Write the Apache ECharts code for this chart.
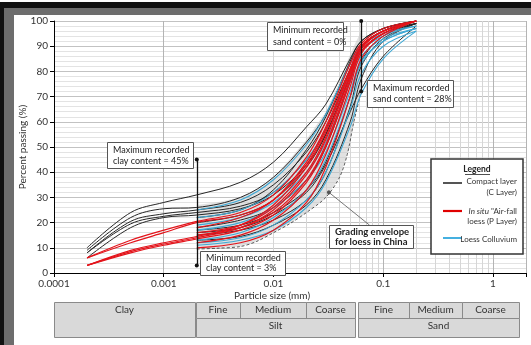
<!DOCTYPE html>
<html>
<head>
<meta charset="utf-8">
<script src="https://cdn.jsdelivr.net/npm/echarts@6/dist/echarts.min.js"></script>
<style>
  html, body { margin: 0; padding: 0; background: #fff; }
  #chart { width: 531px; height: 345px; }
</style>
</head>
<body>
<div id="chart"></div>
<script>
// Sieve / hydrometer sizes (mm) at which percent passing was read
const sizes = [0.0002, 0.0005, 0.001, 0.002, 0.005, 0.01, 0.02, 0.03, 0.05, 0.063, 0.1, 0.2];

// Compact layer (C Layer) grading curves, percent passing
const compactLayer = [
  [10, 24, 28, 31, 36, 44, 58, 67, 85, 92, 97, 100],
  [9, 22, 25.5, 26, 30, 38, 52, 63, 83, 91, 97, 100],
  [8, 20.5, 23.5, 25, 28, 35, 48, 60, 81, 90, 96, 100],
  [8, 19.5, 22.5, 24, 26.5, 32, 45, 57, 80, 90, 96, 100],
  [6, 18, 22, 23, 25.5, 31, 43, 55, 78, 89, 96, 99],
  [null, null, null, 22, 25, 33, 49, 62, 84, 92, 97, 100],
  [null, null, null, 20, 23, 29, 42, 55, 79, 90, 96, 100],
  [null, null, null, 18, 21, 26, 37, 50, 76, 88, 95, 99],
  [null, null, null, 17, 19, 24, 33, 44, 70, 84, 94, 99],
  [null, null, null, 15, 17, 21, 29, 40, 66, 82, 93, 99],
  [null, null, null, 16, 18, 23, 32, 43, 64, 73, 86, 98],
  [null, null, null, 13, 14.5, 19, 27, 37, 60, 77, 92, 99]
];

// In situ air-fall loess (P Layer) grading curves
const airFallLoess = [
  [6, 13, 17, 20.5, 24, 31, 46, 60, 83, 91, 97, 100],
  [6, 12, 16, 20, 23, 29, 43, 57, 81, 90, 96, 100],
  [3, 9, 12, 14.5, 19, 27, 42, 56, 80, 90, 96, 100],
  [3, 8.5, 11.5, 14, 18, 25, 39, 53, 78, 89, 96, 100],
  [3, 8, 11, 13.5, 17, 23, 36, 50, 76, 88, 95, 100],
  [null, null, null, 18, 22, 29, 44, 58, 81, 90, 96, 100],
  [null, null, null, 16, 19, 26, 40, 54, 79, 89, 96, 100],
  [null, null, null, 15, 18, 24, 37, 51, 77, 88, 95, 100],
  [null, null, null, 12, 15, 21, 33, 47, 74, 87, 95, 100],
  [null, null, null, 10, 12, 17, 28, 42, 70, 85, 94, 100]
];

// Loess colluvium grading curves
const loessColluvium = [
  [null, null, null, 25, 29, 37, 51, 63, 83, 90, 95, 98],
  [null, null, null, 22, 25, 32, 45, 57, 79, 88, 94, 98],
  [null, null, null, 19, 22, 28, 40, 52, 76, 86, 93, 97],
  [null, null, null, 17, 20, 26, 37, 48, 72, 84, 92, 97],
  [null, null, null, 13, 16, 22, 33, 45, 70, 83, 92, 97],
  [null, null, null, 12, 14, 19, 29, 40, 65, 79, 90, 96],
  [null, null, null, 11, 13, 17, 26, 36, 58, 71, 85, 96]
];

// Grading envelope for loess in China
const envelopeSizes = [0.002, 0.003, 0.005, 0.007, 0.01, 0.014, 0.02, 0.03, 0.04, 0.047, 0.054, 0.063];
const envelopeLower = [9.5, 9.8, 10.5, 12.5, 16, 19.5, 24, 30, 38, 47, 60, 72];
const envelopeUpper = [27, 28, 30, 33, 38, 45, 53, 64, 76, 84, 90, 96];

// Recorded clay (< 0.002 mm) and sand (> 0.063 mm) extremes
const clayLimit = { size: 0.002, min: 3, max: 45 };
const sandLimit = { size: 0.063, min: 72, max: 100 };
const envelopePointer = [[0.032, 32], [0.075, 19]];

// Axis tick labels
const xTickValues = [0.0001, 0.001, 0.01, 0.1, 1];
const xTickLabels = ['0.0001', '0.001', '0.01', '0.1', '1'];
const xMin = 0.0001, xMax = 2;

const FONT = 'Lato, "Open Sans", sans-serif';
const BLACK = '#262626', RED = '#e3141b', BLUE = '#3ea8d4';

// minor log grid positions 2..9 within each decade
const minorGrid = [];
xTickValues.forEach(d => {
  for (let m = 2; m <= 9; m++) {
    const v = +(m * d).toPrecision(3);
    if (v < xMax) minorGrid.push(v);
  }
});

const series = [];

// shaded grading envelope
series.push({
  type: 'custom',
  silent: true,
  z: 1,
  data: [[0.01, 50]],
  renderItem: function (params, api) {
    const lower = envelopeSizes.map((s, i) => api.coord([s, envelopeLower[i]]));
    const upper = envelopeSizes.map((s, i) => api.coord([s, envelopeUpper[i]])).reverse();
    return {
      type: 'polygon',
      shape: { points: lower.concat(upper) },
      style: { fill: 'rgba(200,200,200,0.55)' }
    };
  }
});

// minor vertical grid lines + minor ticks
series.push({
  type: 'line',
  data: [],
  silent: true,
  markLine: {
    silent: true,
    z: 1,
    symbol: ['none', 'none'],
    label: { show: false },
    lineStyle: { color: '#d6d6d6', width: 1, type: 'solid' },
    data: minorGrid.map(v => ({ xAxis: v }))
      .concat(minorGrid.map(v => [
        { coord: [v, 0], lineStyle: { color: '#000', width: 1, type: 'solid' } },
        { coord: [v, -1.2] }
      ]))
  }
});

function addCurves(list, color, width, name) {
  list.forEach(vals => {
    series.push({
      type: 'line',
      name: name,
      data: sizes.map((s, i) => [s, vals[i]]).filter(p => p[1] != null),
      smooth: 0.35,
      symbol: 'none',
      silent: true,
      z: 3,
      lineStyle: { color: color, width: width }
    });
  });
}
addCurves(compactLayer, BLACK, 1, 'Compact layer (C Layer)');
addCurves(loessColluvium, BLUE, 1.1, 'Loess Colluvium');
addCurves(airFallLoess, RED, 1.2, 'In situ Air-fall loess (P Layer)');

// lower envelope boundary (dashed)
series.push({
  type: 'line',
  data: envelopeSizes.map((s, i) => [s, envelopeLower[i]]),
  smooth: 0.3,
  symbol: 'none',
  silent: true,
  z: 2,
  lineStyle: { color: '#333', width: 0.8, type: [3, 2] }
});

// clay / sand range markers and envelope pointer
series.push({
  type: 'line',
  data: [],
  silent: true,
  markLine: {
    silent: true,
    z: 6,
    symbol: ['circle', 'circle'],
    symbolSize: 4,
    label: { show: false },
    lineStyle: { color: '#111', width: 1.3, type: 'solid' },
    data: [
      [{ coord: [clayLimit.size, clayLimit.min] }, { coord: [clayLimit.size, clayLimit.max] }],
      [{ coord: [sandLimit.size, sandLimit.min] }, { coord: [sandLimit.size, sandLimit.max] }],
      [{ coord: envelopePointer[0], symbol: 'circle' },
       { coord: envelopePointer[1], symbol: 'none', lineStyle: { color: '#555', width: 0.8 } }]
    ]
  }
});

// ---- annotations, legend, classification table, frame ----
const g = [];
const txt = (x, y, text, opt, extra) => g.push(Object.assign({
  type: 'text', x: x, y: y, z: 100,
  style: Object.assign({ text: text, font: '9px ' + FONT, fill: '#222', verticalAlign: 'middle' }, opt || {})
}, extra || {}));
const rect = (x, y, w, h, fill, stroke, lw) => g.push({
  type: 'rect', z: 99, shape: { x: x, y: y, width: w, height: h },
  style: { fill: fill, stroke: stroke, lineWidth: lw == null ? 1 : lw }
});
const seg = (x1, y1, x2, y2, color, lw) => g.push({
  type: 'line', z: 100, shape: { x1: x1, y1: y1, x2: x2, y2: y2 },
  style: { stroke: color, lineWidth: lw || 1 }
});

// frame
rect(0, 2, 531, 6, '#111', null, 0);
rect(0, 2, 4, 343, '#111', null, 0);
rect(4, 8, 527, 7, '#6d6d6d', null, 0);
rect(4, 8, 10, 337, '#6d6d6d', null, 0);

// annotation boxes
function note(x, y, w, h, l1, l2, bold) {
  rect(x + 0.5, y + 0.5, w, h, '#fff', '#555', 1);
  const f = (bold ? 'bold 9.5px ' : '9px ') + FONT;
  txt(x + 6, y + h * 0.3, l1, { font: f });
  txt(x + 6, y + h * 0.72, l2, { font: f });
}
note(107, 142, 86, 26, 'Maximum recorded', 'clay content = 45%');
note(267, 22, 76, 28, 'Minimum recorded', 'sand content = 0%');
note(367, 80, 86, 27, 'Maximum recorded', 'sand content = 28%');
note(200, 251, 85, 24, 'Minimum recorded', 'clay content = 3%');
note(329, 225, 84, 23, 'Grading envelope', 'for loess in China', true);

// legend
rect(431, 159, 92, 95, '#fff', '#333', 1.5);
txt(477, 169, 'Legend', { font: 'bold 8.5px ' + FONT, align: 'center' });
seg(465, 174.5, 490, 174.5, '#222', 0.8);
seg(443, 183, 462, 183, '#555', 2);
seg(443, 211, 462, 211, '#e00000', 2.2);
seg(443, 238, 462, 238, '#45b0e0', 2);
const lf = '8px ' + FONT;
txt(517, 181, 'Compact layer', { font: lf, align: 'right', fill: '#333' });
txt(517, 192, '(C Layer)', { font: lf, align: 'right', fill: '#333' });
txt(517, 211, '{i|In situ} "Air-fall', {
  font: lf, align: 'right', fill: '#333',
  rich: { i: { fontStyle: 'italic', fontSize: 8, fontFamily: FONT, fill: '#333' } }
});
txt(517, 221, 'loess (P Layer)', { font: lf, align: 'right', fill: '#333' });
txt(517, 239, 'Loess Colluvium', { font: lf, align: 'right', fill: '#333' });

// axis titles
txt(272, 296, 'Particle size (mm)', { font: '10px ' + FONT, align: 'center', fill: '#333' });
txt(23, 147, 'Percent passing (%)', { font: '10px ' + FONT, align: 'center', fill: '#333' },
    { rotation: Math.PI / 2 });

// particle size classification table
const TFILL = '#d9d9d9', TLINE = '#8a8a8a';
function cell(x0, x1, y0, y1, label, ty) {
  rect(x0 + 0.5, y0 + 0.5, x1 - x0, y1 - y0, TFILL, TLINE, 1);
  txt((x0 + x1) / 2, ty == null ? (y0 + y1) / 2 : ty, label, { font: '10px ' + FONT, align: 'center', fill: '#333' });
}
cell(54, 195, 302, 337, 'Clay', 310);
cell(196, 240, 302, 318, 'Fine');
cell(240, 306, 302, 318, 'Medium');
cell(306, 355, 302, 318, 'Coarse');
cell(196, 355, 318, 337, 'Silt', 326);
cell(358, 409, 302, 318, 'Fine');
cell(409, 462, 302, 318, 'Medium');
cell(462, 519, 302, 318, 'Coarse');
cell(358, 519, 318, 337, 'Sand', 326);

const option = {
  animation: false,
  backgroundColor: '#fff',
  grid: { left: 54, right: 5, top: 21, bottom: 72 },
  xAxis: {
    type: 'log',
    logBase: 10,
    min: xMin,
    max: xMax,
    axisLine: { lineStyle: { color: '#000', width: 1 } },
    axisTick: { show: true, length: 4, lineStyle: { color: '#000' } },
    axisLabel: {
      fontFamily: FONT, fontSize: 10, color: '#333', margin: 6,
      formatter: function (v) {
        const i = xTickValues.findIndex(t => Math.abs(Math.log10(v) - Math.log10(t)) < 1e-6);
        return i >= 0 ? xTickLabels[i] : '';
      }
    },
    splitLine: { show: true, lineStyle: { color: '#b4b4b4', width: 1 } }
  },
  yAxis: {
    type: 'value',
    min: 0,
    max: 100,
    interval: 10,
    axisLine: { show: true, lineStyle: { color: '#000', width: 1 } },
    axisTick: { show: true, length: 4, lineStyle: { color: '#000' } },
    axisLabel: { fontFamily: FONT, fontSize: 10, color: '#333', margin: 6 },
    splitLine: { show: true, lineStyle: { color: '#c2c2c2', width: 1 } },
    minorTick: { show: false, splitNumber: 5 },
    minorSplitLine: { show: true, lineStyle: { color: '#e3e3e3', width: 1 } }
  },
  series: series,
  graphic: { elements: g }
};

const chart = echarts.init(document.getElementById('chart'));
chart.setOption(option);
</script>
</body>
</html>
